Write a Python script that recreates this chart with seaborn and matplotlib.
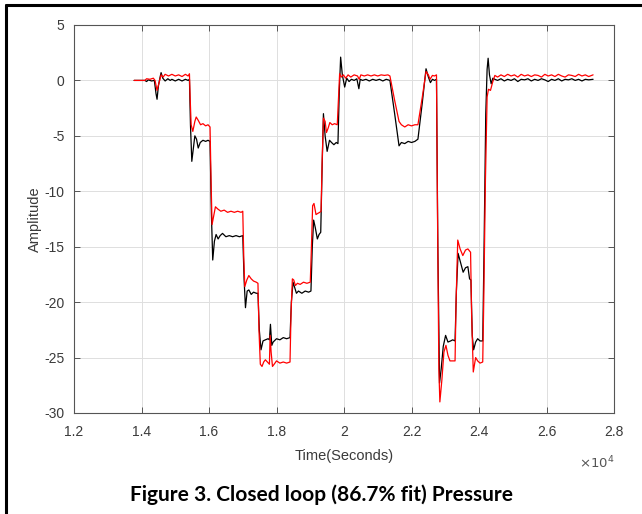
import numpy as np
import pandas as pd
import matplotlib
matplotlib.use("Agg")
import matplotlib.pyplot as plt
from matplotlib.lines import Line2D
import seaborn as sns

# time axis in units of 1e4 seconds
t_black = [1.378, 1.41, 1.415, 1.42, 1.43, 1.438, 1.443, 1.446, 1.45, 1.455,
           1.458, 1.463, 1.47, 1.478, 1.485, 1.49, 1.50, 1.51, 1.52, 1.53,
           1.538, 1.542, 1.545, 1.549, 1.554, 1.558, 1.563, 1.568, 1.574, 1.582,
           1.59, 1.597, 1.603, 1.607, 1.611, 1.616, 1.621, 1.627, 1.633, 1.64,
           1.65, 1.66, 1.67, 1.68, 1.69, 1.700, 1.704, 1.708, 1.713, 1.718,
           1.725, 1.732, 1.74, 1.745, 1.749, 1.754, 1.76, 1.767, 1.775, 1.779,
           1.782, 1.786, 1.79, 1.80, 1.81, 1.82, 1.83, 1.84, 1.844, 1.849,
           1.854, 1.859, 1.865, 1.875, 1.885, 1.895, 1.902, 1.906, 1.910, 1.915,
           1.921, 1.926, 1.931, 1.935, 1.939, 1.944, 1.950, 1.957, 1.963, 1.970,
           1.977, 1.982, 1.986, 1.990, 1.995, 2.002, 2.008, 2.015, 2.022, 2.030,
           2.038, 2.044, 2.048, 2.055, 2.065, 2.075, 2.085, 2.095, 2.105, 2.115,
           2.125, 2.136, 2.150, 2.163, 2.170, 2.180, 2.190, 2.200, 2.210, 2.219,
           2.232, 2.243, 2.250, 2.256, 2.262, 2.268, 2.274, 2.278, 2.283, 2.288,
           2.294, 2.301, 2.308, 2.316, 2.322, 2.329, 2.333, 2.338, 2.346, 2.353,
           2.360, 2.367, 2.372, 2.376, 2.380, 2.384, 2.390, 2.396, 2.403, 2.411,
           2.415, 2.420, 2.424, 2.427, 2.431, 2.436, 2.441, 2.447, 2.455, 2.465,
           2.475, 2.485, 2.495, 2.505, 2.515, 2.525, 2.535, 2.545, 2.555, 2.565,
           2.575, 2.585, 2.595, 2.605, 2.615, 2.625, 2.635, 2.645, 2.655, 2.665,
           2.675, 2.685, 2.695, 2.705, 2.715, 2.725, 2.738]
y_black = [0.0, 0.0, -0.1, 0.05, -0.05, 0.0, -1.2, -1.7, -0.5, 0.3,
           0.7, 0.2, -0.05, 0.15, 0.0, 0.1, -0.05, 0.1, -0.05, 0.1,
           0.0, 0.1, -4.0, -7.3, -6.0, -5.0, -5.3, -6.1, -5.6, -5.4,
           -5.5, -5.4, -5.5, -12.0, -16.2, -14.5, -13.9, -14.3, -14.0, -13.8,
           -14.1, -14.0, -14.1, -14.0, -14.1, -14.0, -18.0, -20.5, -19.0, -18.9,
           -19.3, -19.1, -19.2, -19.2, -22.5, -24.3, -23.5, -23.4, -23.3, -23.4,
           -22.0, -23.9, -23.6, -23.3, -23.4, -23.2, -23.3, -23.2, -20.0, -18.2,
           -18.7, -19.2, -19.0, -19.2, -19.0, -19.1, -19.0, -15.0, -12.6, -13.3,
           -14.3, -13.9, -13.7, -8.0, -3.0, -5.0, -6.4, -5.4, -5.6, -5.8,
           -5.6, -5.7, -1.0, 2.1, 0.5, -0.6, 0.2, -0.1, 0.1, 0.0,
           0.15, -0.75, 0.1, 0.0, 0.1, -0.05, 0.1, 0.0, 0.1, -0.05,
           0.1, 0.0, -3.0, -5.9, -5.6, -5.7, -5.5, -5.6, -5.5, -5.3,
           -2.0, 1.05, 0.3, -0.2, 0.1, 0.0, 0.1, -15.0, -27.3, -26.0,
           -24.0, -23.0, -23.6, -23.5, -23.4, -23.5, -19.0, -15.6, -16.5, -17.3,
           -16.9, -16.8, -17.9, -18.0, -23.0, -24.3, -23.6, -23.3, -23.5, -23.5,
           -15.0, -3.0, 1.0, 2.0, 0.5, -0.3, 0.2, 0.1, 0.0, 0.15,
           -0.05, 0.1, 0.0, 0.15, -0.1, 0.1, 0.05, 0.15, -0.05, 0.1,
           0.0, 0.15, 0.05, -0.1, 0.1, 0.0, 0.15, -0.05, 0.1, 0.05,
           0.15, 0.0, 0.1, -0.05, 0.1, 0.05, 0.1]

t_red = [1.378, 1.41, 1.415, 1.425, 1.435, 1.44, 1.446, 1.452, 1.458, 1.464,
         1.47, 1.48, 1.49, 1.50, 1.51, 1.52, 1.53, 1.538, 1.542, 1.544,
         1.547, 1.552, 1.558, 1.562, 1.568, 1.575, 1.582, 1.59, 1.597, 1.603,
         1.606, 1.609, 1.614, 1.619, 1.626, 1.635, 1.645, 1.655, 1.665, 1.675,
         1.685, 1.695, 1.700, 1.703, 1.706, 1.712, 1.718, 1.725, 1.732, 1.740,
         1.745, 1.748, 1.752, 1.757, 1.762, 1.767, 1.773, 1.779, 1.781, 1.784,
         1.788, 1.793, 1.80, 1.81, 1.82, 1.83, 1.84, 1.843, 1.847, 1.851,
         1.856, 1.862, 1.87, 1.88, 1.89, 1.90, 1.903, 1.907, 1.911, 1.917,
         1.922, 1.928, 1.932, 1.935, 1.939, 1.944, 1.948, 1.953, 1.958, 1.965,
         1.972, 1.98, 1.983, 1.987, 1.992, 1.998, 2.005, 2.012, 2.02, 2.03,
         2.04, 2.045, 2.05, 2.06, 2.07, 2.08, 2.09, 2.10, 2.11, 2.12,
         2.13, 2.136, 2.15, 2.163, 2.17, 2.18, 2.19, 2.20, 2.21, 2.219,
         2.232, 2.243, 2.25, 2.255, 2.262, 2.268, 2.274, 2.277, 2.281, 2.284,
         2.29, 2.296, 2.302, 2.308, 2.314, 2.322, 2.329, 2.332, 2.337, 2.344,
         2.352, 2.36, 2.367, 2.375, 2.378, 2.383, 2.39, 2.396, 2.403, 2.411,
         2.414, 2.419, 2.424, 2.428, 2.434, 2.44, 2.447, 2.455, 2.465, 2.475,
         2.485, 2.495, 2.505, 2.515, 2.525, 2.535, 2.545, 2.555, 2.565, 2.575,
         2.585, 2.595, 2.605, 2.615, 2.625, 2.635, 2.645, 2.655, 2.665, 2.675,
         2.685, 2.695, 2.705, 2.715, 2.725, 2.738]
y_red = [0.0, 0.0, 0.15, 0.1, 0.2, 0.0, -0.9, -0.2, 0.5, 0.3,
         0.55, 0.4, 0.55, 0.4, 0.5, 0.35, 0.55, 0.4, 0.6, -1.5,
         -4.0, -4.6, -3.7, -3.3, -3.6, -4.0, -3.9, -4.1, -4.0, -4.2,
         -9.0, -13.0, -12.2, -11.4, -11.6, -11.8, -11.7, -11.9, -11.8, -11.9,
         -11.8, -11.9, -11.8, -16.0, -18.6, -18.0, -17.6, -17.9, -18.1, -18.2,
         -18.3, -22.5, -25.6, -25.8, -25.4, -25.2, -25.4, -25.6, -23.0, -24.5,
         -25.8, -25.6, -25.3, -25.5, -25.4, -25.5, -25.4, -21.0, -17.9, -18.0,
         -18.5, -18.3, -18.4, -18.2, -18.3, -18.2, -15.5, -11.3, -11.1, -12.1,
         -12.0, -11.9, -11.8, -7.5, -3.4, -3.7, -4.7, -4.3, -3.8, -4.0,
         -3.9, -4.0, -2.0, 0.6, 0.3, 0.5, 0.2, 0.5, 0.3, 0.5,
         0.4, 0.1, 0.5, 0.4, 0.5, 0.4, 0.5, 0.4, 0.5, 0.45,
         0.5, 0.4, -1.8, -3.7, -4.0, -4.2, -4.0, -4.1, -4.0, -4.0,
         -1.5, 0.8, 0.5, 0.1, 0.45, 0.4, 0.5, -12.0, -26.0, -29.0,
         -27.0, -24.5, -23.9, -24.8, -25.3, -25.3, -25.3, -20.0, -14.4, -15.2,
         -15.8, -15.3, -15.2, -15.5, -21.0, -26.3, -25.0, -25.3, -25.5, -25.4,
         -20.0, -9.0, -1.5, -0.8, -0.9, -0.2, 0.45, 0.3, 0.5, 0.35,
         0.55, 0.4, 0.5, 0.3, 0.55, 0.4, 0.5, 0.35, 0.5, 0.45,
         0.3, 0.55, 0.4, 0.5, 0.35, 0.55, 0.4, 0.3, 0.5, 0.45,
         0.35, 0.55, 0.4, 0.5, 0.35, 0.5]

x_ticks = [1.2, 1.4, 1.6, 1.8, 2.0, 2.2, 2.4, 2.6, 2.8]
x_tick_labels = ["1.2", "1.4", "1.6", "1.8", "2", "2.2", "2.4", "2.6", "2.8"]
y_ticks = [-30, -25, -20, -15, -10, -5, 0, 5]

black_df = pd.DataFrame({"t": t_black, "y": y_black})
red_df = pd.DataFrame({"t": t_red, "y": y_red})

sns.set_theme(style="whitegrid")
plt.rcParams["font.family"] = ["Liberation Sans", "DejaVu Sans"]
plt.rcParams["axes.unicode_minus"] = False

fig = plt.figure(figsize=(6.42, 5.14), dpi=100)
ax = fig.add_axes([0.1153, 0.1965, 0.8411, 0.7549])
ax.set_facecolor("white")

sns.lineplot(data=black_df, x="t", y="y", color="black", linewidth=0.9,
             sort=False, estimator=None, ax=ax)
sns.lineplot(data=red_df, x="t", y="y", color="red", linewidth=0.9,
             sort=False, estimator=None, ax=ax)

ax.set_xlim(1.2, 2.8)
ax.set_ylim(-30, 5)
ax.set_xticks(x_ticks)
ax.set_xticklabels(x_tick_labels)
ax.set_yticks(y_ticks)

ax.grid(True, color="#dedede", linewidth=0.7)
for sp in ax.spines.values():
    sp.set_visible(True)
    sp.set_color("#555555")
    sp.set_linewidth(0.8)
ax.tick_params(direction="in", length=4, width=0.7, colors="#555555",
               labelcolor="#3a3a3a", labelsize=10, top=True, right=True,
               bottom=True, left=True)
ax.tick_params(axis="x", pad=9)
ax.tick_params(axis="y", pad=7)

ax.set_xlabel("Time(Seconds)", fontsize=10.5, color="#3a3a3a")
ax.set_ylabel("Amplitude", fontsize=10.5, color="#3a3a3a")
ax.xaxis.set_label_coords(0.5, -0.092)
ax.yaxis.set_label_coords(-0.06, 0.5)
ax.text(1.0, -0.107, r"$\times10^4$", transform=ax.transAxes, ha="right",
        va="top", fontsize=9.5, color="#555555")

fig.text(0.5, 0.037, "Figure 3. Closed loop (86.7% fit) Pressure",
         ha="center", va="center", fontsize=15, fontweight="bold",
         family=["Lato", "DejaVu Sans"], color="black")

# page frame, top and left edges only
fig.add_artist(Line2D([0.009, 1.0], [0.990, 0.990], color="black",
                      linewidth=2.2, transform=fig.transFigure))
fig.add_artist(Line2D([0.010, 0.010], [0.0, 0.990], color="black",
                      linewidth=2.2, transform=fig.transFigure))

fig.savefig("out.png", dpi=100)
